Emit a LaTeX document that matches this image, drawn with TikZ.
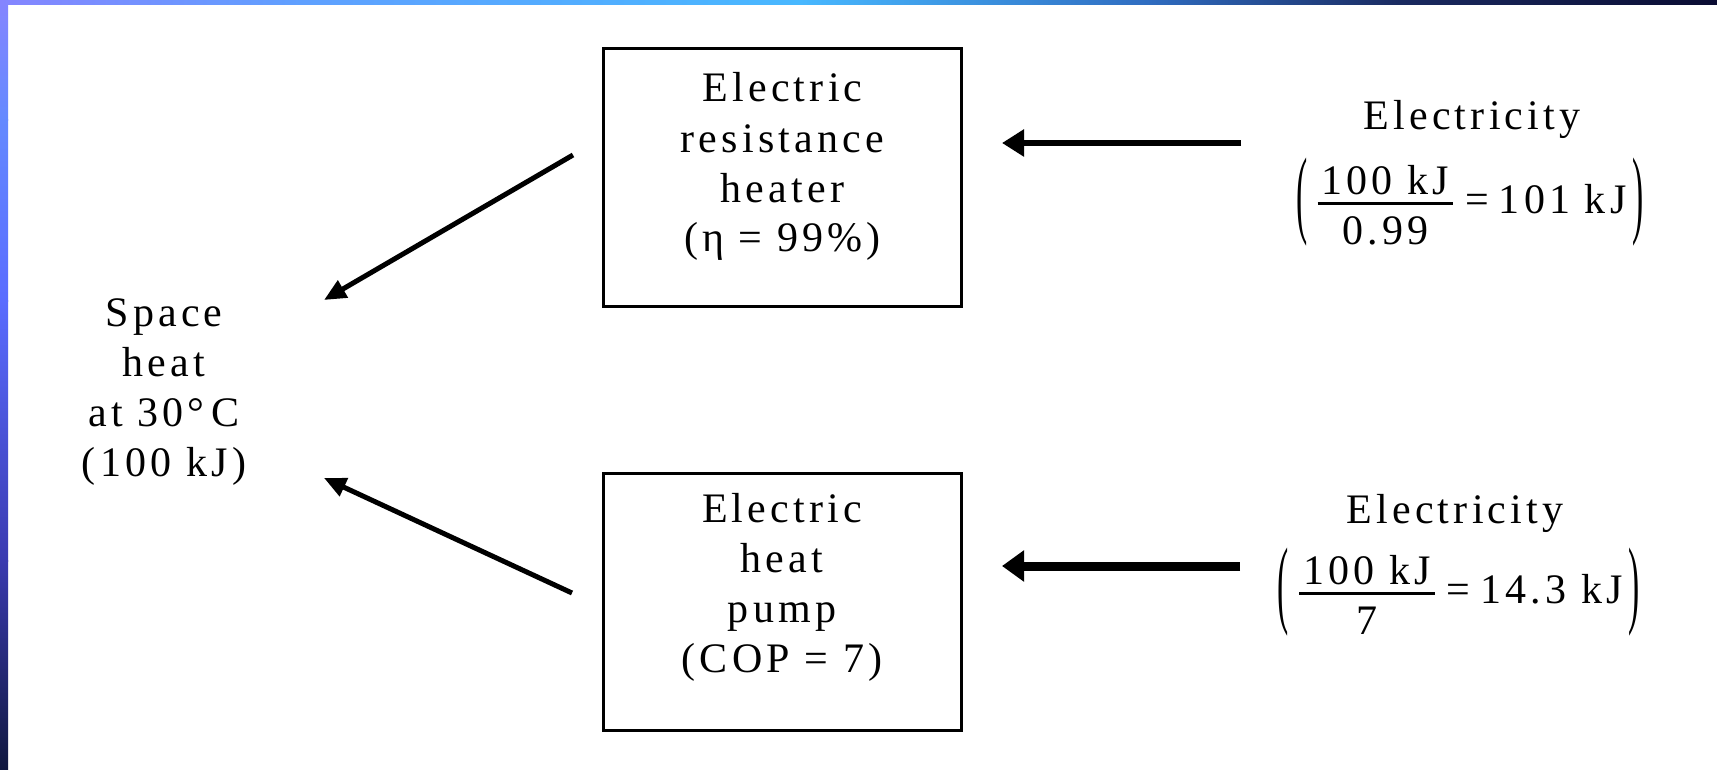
\documentclass[tikz,border=0pt]{standalone}
\usepackage{graphicx}
\usepackage{fontspec}
\setmainfont{Liberation Serif}[LetterSpace=10]
\usetikzlibrary{arrows.meta}

% frame colours
\definecolor{fA}{HTML}{8585FF}
\definecolor{fB}{HTML}{6489FF}
\definecolor{fC}{HTML}{5A6CFF}
\definecolor{fD}{HTML}{3A3AB0}
\definecolor{fE}{HTML}{10183F}
\definecolor{tB}{HTML}{5FA0FF}
\definecolor{tC}{HTML}{48B8FF}
\definecolor{tD}{HTML}{2F6CC0}
\definecolor{tE}{HTML}{1A2A60}
\definecolor{tF}{HTML}{0A0C32}

% tall thin parentheses
\newcommand{\tallparen}[1]{\raisebox{-12pt}{\scalebox{0.8}[2.32]{#1}}}
% energy ratio: stacked fraction, "= result", all between tall parentheses
\newcommand{\ratio}[3]{%
  \tallparen{(}\hspace{10pt}%
  \lower31pt\vbox{\offinterlineskip
    \halign{\hfil\hspace{4pt}##\hspace{4pt}\hfil\cr
      #1\cr
      \noalign{\kern7pt\hrule height 3pt\kern12pt}
      #2\cr}}%
  \hspace{12pt}=\hspace{10pt}#3\hspace{6pt}\tallparen{)}}

\begin{document}
\begin{tikzpicture}[x=1pt,y=-1pt,
  box/.style={draw, line width=3pt, minimum width=358pt, minimum height=257pt, inner sep=0pt},
  txt/.style={align=center, inner sep=0pt, font=\fontsize{42}{50}\selectfont},
  slant/.style={line width=5pt, -{Triangle[length=22pt,width=19pt]}},
  feed/.style={line width=6pt, -{Triangle[length=22pt,width=26pt]}},
  feedbold/.style={line width=9pt, -{Triangle[length=22pt,width=30pt]}}]

\useasboundingbox (0,0) rectangle (1717,770);
\fill[white] (0,0) rectangle (1717,770);

% coloured frame: left bar
\shade[top color=fA, bottom color=fB] (0,0) rectangle (8,121);
\shade[top color=fB, bottom color=fC] (0,120) rectangle (8,301);
\shade[top color=fC, bottom color=fD] (0,300) rectangle (8,561);
\shade[top color=fD, bottom color=fE] (0,560) rectangle (8,770);
% coloured frame: top bar
\shade[left color=fA, right color=tB] (0,0) rectangle (301,5);
\shade[left color=tB, right color=tC] (300,0) rectangle (801,5);
\shade[left color=tC, right color=tD] (800,0) rectangle (1151,5);
\shade[left color=tD, right color=tE] (1150,0) rectangle (1401,5);
\shade[left color=tE, right color=tF] (1400,0) rectangle (1717,5);

% devices (text anchored at the baseline of its last line)
\node[box] (rh) at (782.5,177.5) {};
\node[txt, anchor=base] (rhtxt) at (782.5,252) {Electric\\resistance\\heater\\(η = 99\%)};
\node[box] (hp) at (782,601.5) {};
\node[txt, anchor=base] (hptxt) at (782,672) {Electric\\heat\\pump\\(COP = 7)};

% delivered heat
\node[txt, anchor=base] (space) at (164,476) {Space\\heat\\at 30°\,C\\(100 kJ)};

% electricity supplied
\node[txt, anchor=base] (el1) at (1472,130) {Electricity};
\node[txt, anchor=base] (f1) at (1470,214) {\ratio{100 kJ}{0.99}{101 kJ}};
\node[txt, anchor=base] (el2) at (1455,523) {Electricity};
\node[txt, anchor=base] (f2) at (1459,603) {\ratio{100 kJ}{7}{14.3 kJ}};

% arrow ends
\coordinate (a1) at (573,155);
\coordinate (b1) at (324,300);
\coordinate (a2) at (572,593);
\coordinate (b2) at (324,478);
\coordinate (c1) at (1241,143);
\coordinate (d1) at (1002,143);
\coordinate (c2) at (1240,566);
\coordinate (d2) at (1002,566);

\draw[slant] (a1) -- (b1);
\draw[slant] (a2) -- (b2);
\draw[feed] (c1) -- (d1);
\draw[feedbold] (c2) -- (d2);
\end{tikzpicture}
\end{document}
